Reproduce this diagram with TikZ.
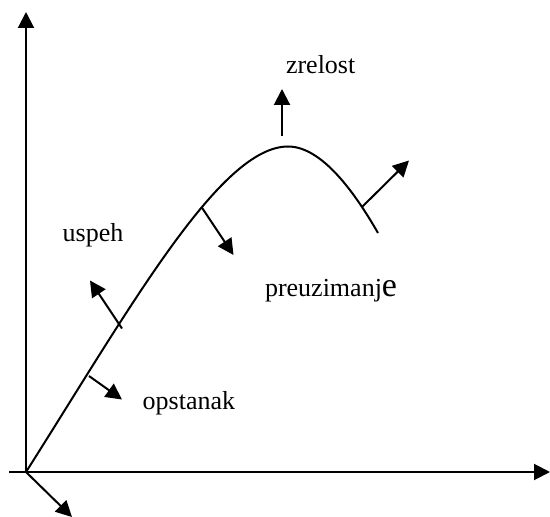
\documentclass[tikz,border=0pt]{standalone}
\usepackage{fontspec}
\setmainfont{Liberation Serif}
\usetikzlibrary{arrows.meta}

\tikzset{
  lbl/.style={anchor=base west, inner sep=0pt, font=\fontsize{13}{15}\selectfont}
}

\begin{document}
\begin{tikzpicture}[x=0.5pt, y=-0.5pt, line width=1pt, >={Triangle[length=8pt,width=8pt]}]
  \useasboundingbox (0,0) rectangle (550,517);

  % Axes
  \coordinate (O) at (26,472);
  \coordinate (yTop) at (26,12);
  \coordinate (xStart) at (9,472);
  \coordinate (xEnd) at (550,472);
  \draw[->] (O) -- (yTop);
  \draw[->] (xStart) -- (xEnd);

  % Life cycle curve
  \coordinate (peak) at (288,146.5);
  \coordinate (cEnd) at (378,233);
  \draw (O) .. controls (130,308) and (220,146.5) .. (peak)
            .. controls (322,146.5) and (355,193) .. (cEnd);

  % Arrows leaving the curve
  \coordinate (down0) at (72,517);
  \coordinate (opsA) at (89,376);   \coordinate (opsB) at (122,399.5);
  \coordinate (uspA) at (122,328.5); \coordinate (uspB) at (90,280.5);
  \coordinate (preA) at (201.5,207); \coordinate (preB) at (233.5,255);
  \coordinate (zreA) at (282,136);   \coordinate (zreB) at (282,89);
  \coordinate (decA) at (362.5,206.5); \coordinate (decB) at (409,160.5);
  \draw[->] (O) -- (down0);
  \draw[->] (opsA) -- (opsB);
  \draw[->] (uspA) -- (uspB);
  \draw[->] (preA) -- (preB);
  \draw[->] (zreA) -- (zreB);
  \draw[->] (decA) -- (decB);

  % Labels
  \node[lbl] (zrelost) at (285,73.3) {zrelost};
  \node[lbl] (uspeh) at (61.7,241.7) {uspeh};
  \node[lbl] (preuzimanje) at (264,296.7) {preuzimanj{\fontsize{17}{19}\selectfont e}};
  \node[lbl] (opstanak) at (141.7,409.3) {opstanak};
\end{tikzpicture}
\end{document}
